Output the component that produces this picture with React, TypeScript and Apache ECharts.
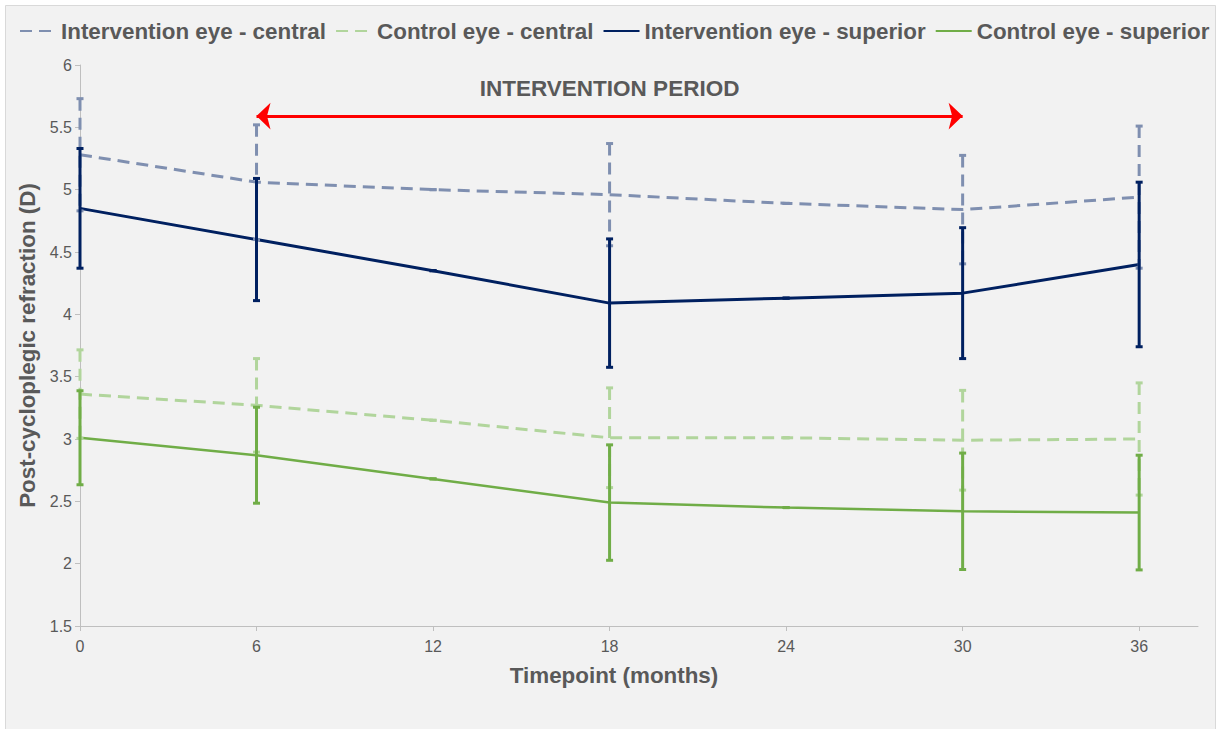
import React, { useEffect, useRef } from "react";
import * as echarts from "echarts";

const months = [0, 6, 12, 18, 24, 30, 36];
const xTickValues = [0, 6, 12, 18, 24, 30, 36];

const seriesNames = [
  "Intervention eye - central",
  "Control eye - central",
  "Intervention eye - superior",
  "Control eye - superior",
];

const interventionCentral = [5.28, 5.06, 5.0, 4.96, 4.89, 4.84, 4.94];
const interventionCentralErr = [0.45, 0.46, 0, 0.41, 0, 0.435, 0.57];
const controlCentral = [3.36, 3.27, 3.15, 3.01, 3.01, 2.99, 3.0];
const controlCentralErr = [0.355, 0.375, 0, 0.4, 0, 0.4, 0.45];
const interventionSuperior = [4.85, 4.6, 4.35, 4.09, 4.13, 4.17, 4.4];
const interventionSuperiorErr = [0.48, 0.49, 0, 0.515, 0, 0.525, 0.66];
const controlSuperior = [3.01, 2.87, 2.68, 2.49, 2.45, 2.42, 2.41];
const controlSuperiorErr = [0.377, 0.385, 0, 0.463, 0, 0.467, 0.46];

const periodStart = 6;
const periodEnd = 30;
const periodLevel = 5.59;
const periodLabel = "INTERVENTION PERIOD";

const xAxisTitle = "Timepoint (months)";
const yAxisTitle = "Post-cycloplegic refraction (D)";

const FONT = "'Liberation Sans', Arial, sans-serif";
const TEXT = "#595959";
const AXIS = "#bfbfbf";

const colors = ["#7f8fb0", "#b1d59c", "#002060", "#70ad47"];
const dashed = [12, 7];

export default function App() {
  const ref = useRef<HTMLDivElement>(null);

  useEffect(() => {
    if (!ref.current) return;
    const chart = echarts.init(ref.current, undefined, { renderer: "svg" });

    const values = [interventionCentral, controlCentral, interventionSuperior, controlSuperior];
    const errs = [interventionCentralErr, controlCentralErr, interventionSuperiorErr, controlSuperiorErr];
    const isDashed = [true, true, false, false];
    const widths = [3, 3, 3, 2.5];

    const lineSeries: any[] = values.map((v, i) => ({
      name: seriesNames[i],
      type: "line",
      data: months.map((m, k) => [m, v[k]]),
      symbol: "none",
      z: 3,
      lineStyle: {
        color: colors[i],
        width: widths[i],
        type: isDashed[i] ? dashed : "solid",
      },
      itemStyle: { color: colors[i] },
    }));

    lineSeries[2].markLine = {
      silent: true,
      symbol: ["arrow", "arrow"],
      symbolSize: [20, 14],
      lineStyle: { color: "#ff0000", width: 3, type: "solid" },
      label: {
        show: true,
        position: "middle",
        formatter: periodLabel,
        color: TEXT,
        fontFamily: FONT,
        fontWeight: "bold",
        fontSize: 22.5,
        distance: 16,
      },
      data: [[{ coord: [periodStart, periodLevel] }, { coord: [periodEnd, periodLevel] }]],
    };

    const errSeries: any[] = values.map((v, i) => ({
      name: "err-" + i,
      type: "custom",
      z: 4,
      silent: true,
      encode: { x: 0, y: 1 },
      data: months.map((m, k) => [m, v[k], errs[i][k]]),
      renderItem: (params: any, api: any) => {
        const x = api.value(0);
        const y = api.value(1);
        const e = api.value(2);
        const top = api.coord([x, y + e]);
        const bot = api.coord([x, y - e]);
        const hw = 3.5;
        const lw = 3;
        const c = colors[i];
        return {
          type: "group",
          children: [
            {
              type: "line",
              shape: { x1: top[0], y1: top[1], x2: bot[0], y2: bot[1] },
              style: { stroke: c, lineWidth: lw, lineDash: isDashed[i] ? [12, 7] : null },
            },
            {
              type: "line",
              shape: { x1: top[0] - hw, y1: top[1], x2: top[0] + hw, y2: top[1] },
              style: { stroke: c, lineWidth: lw },
            },
            {
              type: "line",
              shape: { x1: bot[0] - hw, y1: bot[1], x2: bot[0] + hw, y2: bot[1] },
              style: { stroke: c, lineWidth: lw },
            },
          ],
        };
      },
    }));

    chart.setOption({
      animation: false,
      graphic: [
        {
          type: "rect",
          z: -10,
          silent: true,
          shape: { x: 5.5, y: 5.5, width: 1210, height: 740 },
          style: { fill: "#f2f2f2", stroke: "#d9d9d9", lineWidth: 1 },
        },
      ],
      legend: {
        data: seriesNames,
        left: 14,
        top: 15,
        itemWidth: 36,
        itemHeight: 14,
        itemGap: 9,
        itemStyle: { opacity: 0 },
        textStyle: {
          color: TEXT,
          fontFamily: FONT,
          fontWeight: "bold",
          fontSize: 22.4,
        },
      },
      grid: { left: 80, right: 32, top: 65, bottom: 103, containLabel: false },
      xAxis: {
        type: "value",
        min: 0,
        max: 38,
        interval: 6,
        name: xAxisTitle,
        nameLocation: "middle",
        nameGap: 38,
        nameTextStyle: {
          color: TEXT,
          fontFamily: FONT,
          fontWeight: "bold",
          fontSize: 22.4,
          padding: [0, 50, 0, 0],
        },
        axisLine: { show: true, lineStyle: { color: AXIS, width: 1 } },
        axisTick: { show: true, length: 5, lineStyle: { color: AXIS }, customValues: xTickValues },
        axisLabel: {
          color: TEXT,
          fontFamily: FONT,
          fontSize: 16,
          margin: 12,
          customValues: xTickValues,
        },
        splitLine: { show: false },
      },
      yAxis: {
        type: "value",
        min: 1.5,
        max: 6,
        interval: 0.5,
        name: yAxisTitle,
        nameLocation: "middle",
        nameGap: 42,
        nameTextStyle: { color: TEXT, fontFamily: FONT, fontWeight: "bold", fontSize: 22.4 },
        axisLine: { show: true, lineStyle: { color: AXIS, width: 1 } },
        axisTick: { show: true, length: 5, lineStyle: { color: AXIS } },
        axisLabel: { color: TEXT, fontFamily: FONT, fontSize: 16, margin: 8 },
        splitLine: { show: false },
      },
      series: [...lineSeries, ...errSeries],
    });

    return () => chart.dispose();
  }, []);

  return (
    <div
      ref={ref}
      style={{ position: "absolute", left: 0, top: 0, width: 1230, height: 729, background: "#ffffff" }}
    />
  );
}
